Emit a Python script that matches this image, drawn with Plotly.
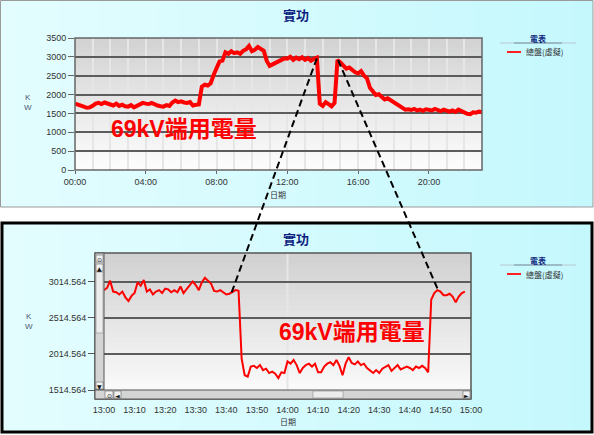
import plotly.graph_objects as go
import pandas as pd

# ---------------- data ----------------
CHART_TITLE = "實功"
LEGEND_TITLE = "電表"
SERIES_NAME = "總盤(虛擬)"
X_TITLE = "日期"
Y_TITLE = "K<br>W"
NOTE = "69kV端用電量"

# full day, 10-minute readings (kW)
top_start = "2020-01-01 00:00"
top_end = "2020-01-01 23:00"
top_kw = [
    1760, 1740, 1700, 1680, 1650, 1660,
    1700, 1760, 1780, 1750, 1790, 1760,
    1740, 1710, 1760, 1700, 1730, 1690,
    1680, 1720, 1660, 1700, 1740, 1780,
    1760, 1750, 1780, 1730, 1710, 1690,
    1680, 1720, 1700, 1790, 1840, 1800,
    1820, 1790, 1780, 1800, 1710, 1730,
    1740, 2210, 2260, 2240, 2300, 2520,
    2680, 2880, 2900, 3120, 3080, 3150,
    3100, 3120, 3080, 3160, 3200, 3290,
    3150, 3190, 3260, 3200, 3160, 2900,
    2760, 2800, 2850, 2900, 2920, 2960,
    2950, 3000, 2920, 2980, 2940, 2990,
    2920, 2970, 2900, 2950, 2980, 1760,
    1700, 1800, 1740, 1690, 1780, 2920,
    2850, 2760, 2690, 2720, 2640, 2590,
    2560, 2620, 2500, 2430, 2180, 2090,
    1990, 2010, 1940, 1870, 1900, 1850,
    1780, 1760, 1700, 1660, 1600, 1610,
    1590, 1620, 1580, 1600, 1570, 1610,
    1590, 1580, 1620, 1590, 1560, 1600,
    1570, 1550, 1580, 1540, 1600, 1560,
    1510, 1490, 1480, 1530, 1520, 1550,
    1540,
]
top_yticks = [0, 500, 1000, 1500, 2000, 2500, 3000, 3500]

# zoomed window 13:00-15:00, 1-minute readings (kW)
zoom_start = "2020-01-01 13:00"
zoom_end = "2020-01-01 15:00"
zoom_kw = [
    2900, 2930, 3030, 2880, 2870, 2840, 2880, 2800, 2750, 2820,
    2860, 3010, 2960, 3040, 2880, 2910, 2840, 2880, 2900, 2860,
    2920, 2910, 2870, 2900, 2870, 2950, 2860, 2910, 2960, 3020,
    2970, 2900, 3010, 3070, 3030, 2990, 2890, 2880, 2900, 2870,
    2840, 2850, 2880, 2900, 2890,
    1950, 1720, 1700, 1840, 1850, 1820, 1860, 1790, 1810, 1750,
    1770, 1740, 1680, 1760, 1750,
    1910, 1880, 1930, 1860, 1750, 1820, 1860, 1880, 1840, 1880,
    1760, 1760, 1840, 1880, 1900, 1860, 1930, 1850, 1720, 1880,
    1970, 1890, 1870, 1910, 1860, 1880, 1820, 1790, 1750, 1790,
    1750, 1810, 1830, 1860, 1780, 1820, 1860, 1800, 1820, 1840,
    1820, 1790, 1840, 1820, 1850, 1820, 1760, 2770, 2860, 2900,
    2880, 2830, 2830, 2850, 2810, 2730, 2810, 2860, 2880,
]
zoom_yticks = [1514.564, 2014.564, 2514.564, 3014.564]
zoom_ymax = 3415

# where the dashed connectors touch the curves
link_top = [("2020-01-01 13:40", 2960), ("2020-01-01 14:52", 2915)]
link_zoom = [("2020-01-01 13:41:30", 2840), ("2020-01-01 14:49:30", 2876)]

top_time = pd.date_range(top_start, periods=len(top_kw), freq="10min")
zoom_time = pd.date_range(zoom_start, periods=len(zoom_kw), freq="1min")

# ---------------- layout helpers ----------------
W, H = 594, 435
def fx(x):
    return x / W
def fy(y):
    return 1 - y / H

TOP_XD = [fx(75), fx(482)]
TOP_YD = [fy(170), fy(38)]
ZM_XD = [fx(104), fx(471)]
ZM_YD = [fy(390), fy(253)]
TOP_YR = [0, 3500]
ZM_YR = [1514.564, zoom_ymax]

def to_paper(t, v, xr, xd, yr, yd):
    t0, t1 = pd.Timestamp(xr[0]), pd.Timestamp(xr[1])
    fxv = (pd.Timestamp(t) - t0) / (t1 - t0)
    fyv = (v - yr[0]) / (yr[1] - yr[0])
    return xd[0] + fxv * (xd[1] - xd[0]), yd[0] + fyv * (yd[1] - yd[0])

def hexrgb(h):
    h = h.lstrip("#")
    return tuple(int(h[i:i + 2], 16) for i in (0, 2, 4))

def lerp(c0, c1, t):
    a, b = hexrgb(c0), hexrgb(c1)
    return "#%02x%02x%02x" % tuple(round(p + (q - p) * t) for p, q in zip(a, b))

shapes = []
annotations = []

def rect(x0, y0, x1, y1, fill=None, line=None, lw=1, layer="below"):
    shapes.append(dict(type="rect", xref="paper", yref="paper",
                       x0=fx(x0), x1=fx(x1), y0=fy(y1), y1=fy(y0),
                       fillcolor=fill if fill else "rgba(0,0,0,0)",
                       line=dict(color=line if line else "rgba(0,0,0,0)", width=lw if line else 0),
                       layer=layer))

def hgrad(x0, y0, x1, y1, c0, c1, n=30):
    step = (x1 - x0) / n
    for i in range(n):
        rect(x0 + i * step, y0, min(x1, x0 + (i + 1) * step + 0.8), y1,
             fill=lerp(c0, c1, (i + 0.5) / n))

def plot_grad(xr, yr, c_top, c_bot, n=26):
    for i in range(n):
        shapes.append(dict(type="rect", xref=xr + " domain", yref=yr + " domain",
                           x0=0, x1=1, y0=1 - (i + 1) / n - 0.004, y1=1 - i / n,
                           fillcolor=lerp(c_top, c_bot, (i + 0.5) / n),
                           line=dict(width=0), layer="below"))

def text(x, y, s, size=8, color="#333333", bold=False, family=None, xanchor="center"):
    annotations.append(dict(xref="paper", yref="paper", x=fx(x), y=fy(y), text=s,
                            showarrow=False, xanchor=xanchor, yanchor="middle",
                            font=dict(size=size, color=color,
                                      family=family or "Liberation Sans, Noto Sans CJK TC, sans-serif",
                                      weight="bold" if bold else "normal")))

# panels
hgrad(0, 0, 593, 207, "#e4fdfe", "#c4f8fd")
rect(0.5, 0.5, 593, 207, line="#9a9a9a", lw=1)
hgrad(3, 224, 591, 431, "#e4fdfe", "#c4f8fd")

# plot backgrounds
plot_grad("x", "y", "#d2d2d2", "#fdfdfd")
plot_grad("x2", "y2", "#d0d0d0", "#fafafa")

# 14:00 light vertical line in the zoom chart
shapes.append(dict(type="line", xref="x2", yref="y2 domain", x0="2020-01-01 14:00",
                   x1="2020-01-01 14:00", y0=0, y1=1, line=dict(color="#e6e6e6", width=2),
                   layer="below"))

# frames
rect(75, 38, 482, 170, line="#666666", lw=1.5, layer="above")
rect(95, 253, 471, 399, line="#555555", lw=1.5, layer="above")
rect(2, 223, 592, 432, line="#000000", lw=3, layer="above")

# scrollbars of the zoom chart
rect(95, 253, 104, 390, fill="#d4d4d4", line="#555555", lw=1, layer="above")
rect(96, 272, 103, 333, fill="#ececec", line="#8a8a8a", lw=0.6, layer="above")
rect(95, 390, 471, 399, fill="#d4d4d4", line="#555555", lw=1, layer="above")
rect(313, 391, 343, 398, fill="#ececec", line="#8a8a8a", lw=0.6, layer="above")
for (bx0, by0, bx1, by1, g) in [(96, 255, 103, 262, "⊙"), (96, 264, 103, 271, "▲"),
                                 (96, 382, 103, 389, "▼"), (105, 391, 113, 398, "⊙"),
                                 (114, 391, 121, 398, "◄"), (463, 391, 470, 398, "►")]:
    rect(bx0, by0, bx1, by1, fill="#f2f2f2", line="#666666", lw=0.6, layer="above")
    text((bx0 + bx1) / 2, (by0 + by1) / 2 + 0.5, g, size=6, color="#111111",
         family="DejaVu Sans")

# dashed connectors
for (tt, tv), (zt, zv) in zip(link_top, link_zoom):
    xa, ya = to_paper(tt, tv, [top_start, top_end], TOP_XD, TOP_YR, TOP_YD)
    xb, yb = to_paper(zt, zv, [zoom_start, zoom_end], ZM_XD, ZM_YR, ZM_YD)
    shapes.append(dict(type="line", xref="paper", yref="paper", x0=xa, y0=ya, x1=xb, y1=yb,
                       line=dict(color="#000000", width=2, dash="7px,4px"), layer="above"))

# titles
CJK = "Noto Sans CJK TC, sans-serif"
text(296, 15, CHART_TITLE, size=13, color="#0d1f80", bold=True, family=CJK)
text(296, 238, CHART_TITLE, size=13, color="#0d1f80", bold=True, family=CJK)

# axis titles
text(28, 102, Y_TITLE, size=8, color="#4a5578")
text(29, 321, Y_TITLE, size=8, color="#4a5578")
text(278, 194, X_TITLE, size=8, color="#333333", family=CJK)
text(287.5, 421, X_TITLE, size=8, color="#333333", family=CJK)

# legends
for ly, iy in [(38, 52), (260, 274)]:
    text(538, ly, LEGEND_TITLE, size=8, color="#0d1f80", bold=True, family=CJK)
    for (a, b, c) in [(500, 514, "#b8c8d0"), (514, 562, "#6f7f90"), (562, 576, "#b8c8d0")]:
        shapes.append(dict(type="line", xref="paper", yref="paper", x0=fx(a), x1=fx(b),
                           y0=fy(ly + 5), y1=fy(ly + 5), line=dict(color=c, width=1), layer="above"))
    shapes.append(dict(type="line", xref="paper", yref="paper", x0=fx(507), x1=fx(521),
                       y0=fy(iy), y1=fy(iy), line=dict(color="#ff2020", width=2), layer="above"))
    text(524, iy, SERIES_NAME, size=8, color="#333333", family=CJK, xanchor="left")

# red notes (anchored in data space)
note_font = dict(size=23, color="#ff0000", family="Liberation Sans, Noto Sans CJK TC, sans-serif",
                 weight="bold")
annotations.append(dict(xref="x", yref="y", x="2020-01-01 06:10", y=1100, text=NOTE,
                        showarrow=False, font=note_font))
annotations.append(dict(xref="x2", yref="y2", x="2020-01-01 14:21", y=2320, text=NOTE,
                        showarrow=False, font=note_font))

# ---------------- figure ----------------
fig = go.Figure()
fig.add_trace(go.Scatter(x=top_time, y=top_kw, mode="lines", name=SERIES_NAME,
                         line=dict(color="#ff0000", width=4), xaxis="x", yaxis="y",
                         showlegend=False))
fig.add_trace(go.Scatter(x=zoom_time, y=zoom_kw, mode="lines", name=SERIES_NAME,
                         line=dict(color="#ff0000", width=2), xaxis="x2", yaxis="y2",
                         showlegend=False))

tick_font = dict(size=9, color="#333333", family="Liberation Sans, sans-serif")

fig.update_layout(
    width=W, height=H,
    margin=dict(l=0, r=0, t=0, b=0, autoexpand=False),
    paper_bgcolor="#ffffff",
    plot_bgcolor="rgba(0,0,0,0)",
    showlegend=False,
    shapes=shapes,
    annotations=annotations,
    xaxis=dict(domain=TOP_XD, anchor="y", type="date", range=[top_start, top_end],
               tickformat="%H:%M", dtick=4 * 3600000, tick0=top_start,
               ticks="outside", ticklen=3, tickcolor="#666666", tickfont=tick_font,
               showgrid=True, gridcolor="#e6e6e6", gridwidth=2,
               minor=dict(dtick=3600000, showgrid=True, gridcolor="#e6e6e6", gridwidth=2),
               showline=False, zeroline=False, fixedrange=True, automargin=False),
    yaxis=dict(domain=TOP_YD, anchor="x", range=TOP_YR, tickvals=top_yticks,
               ticks="outside", ticklen=6, tickcolor="#666666", tickfont=tick_font,
               showgrid=True, gridcolor="#5c5c5c", gridwidth=1.5,
               showline=False, zeroline=False, fixedrange=True, automargin=False),
    xaxis2=dict(domain=ZM_XD, anchor="free", position=fy(399), type="date",
                range=[zoom_start, zoom_end], tickformat="%H:%M", dtick=600000,
                tick0=zoom_start, ticks="outside", ticklen=2, tickcolor="rgba(0,0,0,0)",
                tickfont=tick_font, showgrid=False, showline=False, zeroline=False,
                fixedrange=True, automargin=False),
    yaxis2=dict(domain=ZM_YD, anchor="free", position=fx(95), range=ZM_YR,
                tickvals=zoom_yticks, ticktext=["%.3f" % v for v in zoom_yticks],
                ticks="outside", ticklen=7, tickcolor="#555555", tickfont=tick_font,
                showgrid=True, gridcolor="#5c5c5c", gridwidth=1.5,
                showline=False, zeroline=False, fixedrange=True, automargin=False),
)

fig.write_html("out.html")
